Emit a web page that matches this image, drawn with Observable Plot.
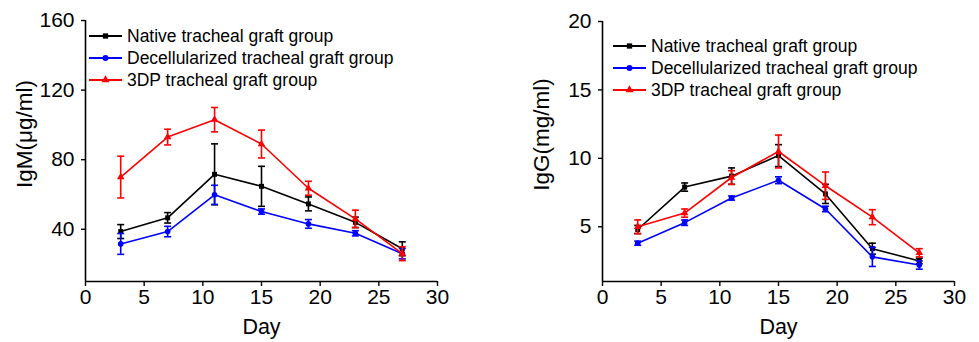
<!DOCTYPE html>
<html>
<head>
<meta charset="utf-8">
<script src="https://cdn.jsdelivr.net/npm/d3@7"></script>
<script src="https://cdn.jsdelivr.net/npm/@observablehq/plot@0.6"></script>
<style>
  html, body { margin: 0; padding: 0; background: #fff; }
  #wrap { position: relative; width: 979px; height: 342px; display: flex; font-family: "Liberation Sans", Arial, sans-serif; }
  .panel { position: relative; }
  .legend { position: absolute; font-size: 17.5px; color: #000; line-height: 22px; }
  .legend .row { display: flex; align-items: center; height: 22px; white-space: nowrap; }
  .legend svg { margin-right: 4px; }
</style>
</head>
<body>
<div id="wrap"></div>
<script>
// ---- data ----
const days = [3, 7, 11, 15, 19, 23, 27];
const seriesNames = ["Native tracheal graft group", "Decellularized tracheal graft group", "3DP tracheal graft group"];
const seriesColors = ["#000000", "#0000ff", "#ff0000"];
const seriesSymbols = ["square", "circle", "triangle"];

const igmNative = [38.7, 46.6, 71.6, 64.7, 54.6, 44.0, 28.8];
const igmNativeErr = [4, 3, 17.5, 11.5, 4, 3, 4];
const igmDecell = [31.6, 38.7, 59.8, 50.2, 43.1, 37.7, 26.0];
const igmDecellErr = [6, 3, 5.5, 1.5, 2.5, 1.5, 3];
const igm3DP = [70, 93, 103, 89, 63.6, 46, 26];
const igm3DPErr = [12, 4.5, 7, 8, 4, 5, 4];

const iggNative = [4.8, 7.9, 8.7, 10.2, 7.4, 3.4, 2.5];
const iggNativeErr = [0.3, 0.3, 0.6, 0.8, 0.7, 0.4, 0.2];
const iggDecell = [3.8, 5.3, 7.1, 8.4, 6.3, 2.8, 2.2];
const iggDecellErr = [0.15, 0.2, 0.15, 0.25, 0.2, 0.7, 0.3];
const igg3DP = [5.0, 6.0, 8.6, 10.5, 8.0, 5.7, 3.1];
const igg3DPErr = [0.5, 0.3, 0.5, 1.2, 1.0, 0.55, 0.3];

const xTicks = [0, 5, 10, 15, 20, 25, 30];
const igmTicks = [40, 80, 120, 160];
const iggTicks = [5, 10, 15, 20];

function buildRows(valuesList, errList) {
  const rows = [];
  valuesList.forEach((vals, s) => {
    vals.forEach((v, i) => rows.push({
      series: seriesNames[s], s, day: days[i], value: v,
      lo: v - errList[s][i], hi: v + errList[s][i]
    }));
  });
  return rows;
}

const capSymbol = { draw(ctx) { ctx.moveTo(-3.5, 0); ctx.lineTo(3.5, 0); } };

function makeChart(opts) {
  const { rows, yDomain, yTicks, yLabel, width, ml, mr, mt } = opts;
  const yMid = (yDomain[0] + yDomain[1]) / 2;
  const marks = [
    Plot.ruleX([0], { stroke: "#000", strokeWidth: 1.6 }),
    Plot.ruleY([yDomain[0]], { stroke: "#000", strokeWidth: 1.6 }),
    Plot.axisX({ ticks: xTicks, tickSize: 5, tickPadding: 3, label: null, tickFormat: d => d, strokeWidth: 1.4, fontSize: 21 }),
    Plot.axisY({ ticks: yTicks, tickSize: 4, tickPadding: 7, label: null, tickFormat: d => d, strokeWidth: 1.4, fontSize: 21 }),
    Plot.text(["Day"], { frameAnchor: "bottom", lineAnchor: "middle", textAnchor: "middle", dy: 46, fontSize: 21.5, text: d => d }),
    Plot.text([yLabel], { x: () => 0, y: () => yMid, textAnchor: "middle", lineAnchor: "middle", rotate: -90, dx: -61, dy: -17, fontSize: 22.5, text: d => d })
  ];
  seriesNames.forEach((name, s) => {
    const data = rows.filter(r => r.s === s);
    const c = seriesColors[s];
    marks.push(
      Plot.line(data, { x: "day", y: "value", stroke: c, strokeWidth: 1.6 }),
      Plot.ruleX(data, { x: "day", y1: "lo", y2: "hi", stroke: c, strokeWidth: 1.6 }),
      Plot.dot(data, { x: "day", y: "lo", symbol: capSymbol, stroke: c, strokeWidth: 1.6, r: 3 }),
      Plot.dot(data, { x: "day", y: "hi", symbol: capSymbol, stroke: c, strokeWidth: 1.6, r: 3 }),
      Plot.dot(data, { x: "day", y: "value", symbol: seriesSymbols[s], fill: c, stroke: "none", r: 2.8 })
    );
  });
  return Plot.plot({
    width, height: 342,
    marginLeft: ml, marginRight: mr, marginTop: mt, marginBottom: 61,
    style: { fontFamily: "'Liberation Sans', Arial, sans-serif", fontSize: "21px", color: "#000", background: "#fff", overflow: "visible" },
    x: { domain: [0, 30] },
    y: { domain: yDomain },
    marks
  });
}

function makeLegend(left, top) {
  const div = document.createElement("div");
  div.className = "legend";
  div.style.left = left + "px";
  div.style.top = top + "px";
  seriesNames.forEach((name, s) => {
    const row = document.createElement("div");
    row.className = "row";
    const sym = d3.symbol(s === 0 ? d3.symbolSquare : s === 1 ? d3.symbolCircle : d3.symbolTriangle, 28)();
    row.innerHTML = `<svg width="34" height="12" viewBox="0 0 34 12"><line x1="0" y1="6" x2="33" y2="6" stroke="${seriesColors[s]}" stroke-width="1.8"/><path d="${sym}" transform="translate(16.5,6)" fill="${seriesColors[s]}"/></svg><span>${name}</span>`;
    div.appendChild(row);
  });
  return div;
}

const wrap = document.getElementById("wrap");

const p1 = document.createElement("div"); p1.className = "panel";
p1.appendChild(makeChart({
  rows: buildRows([igmNative, igmDecell, igm3DP], [igmNativeErr, igmDecellErr, igm3DPErr]),
  yDomain: [10, 160], yTicks: igmTicks, yLabel: "IgM(μg/ml)", width: 490, ml: 85, mr: 53, mt: 20
}));
p1.appendChild(makeLegend(89, 25));
wrap.appendChild(p1);

const p2 = document.createElement("div"); p2.className = "panel";
p2.appendChild(makeChart({
  rows: buildRows([iggNative, iggDecell, igg3DP], [iggNativeErr, iggDecellErr, igg3DPErr]),
  yDomain: [1, 20], yTicks: iggTicks, yLabel: "IgG(mg/ml)", width: 489, ml: 112, mr: 25, mt: 21
}));
p2.appendChild(makeLegend(123, 35));
wrap.appendChild(p2);
</script>
</body>
</html>
